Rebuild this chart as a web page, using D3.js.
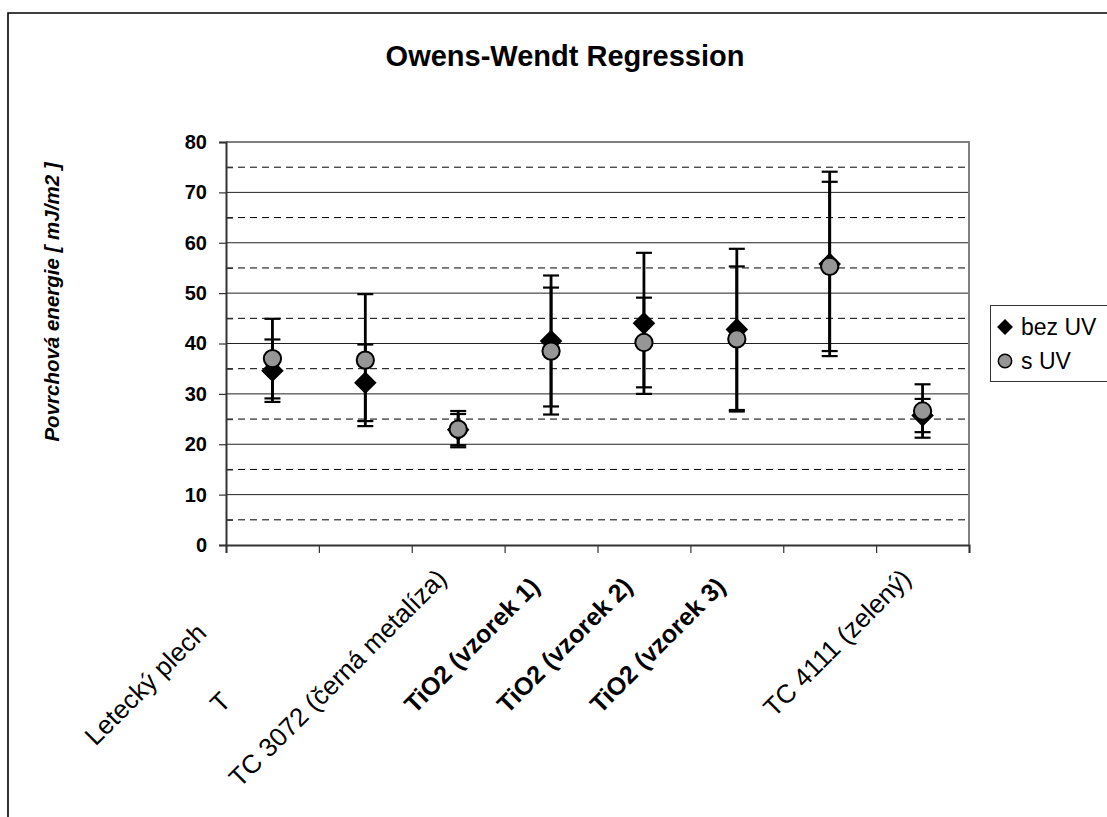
<!DOCTYPE html>
<html>
<head>
<meta charset="utf-8">
<script src="https://cdn.jsdelivr.net/npm/d3@7"></script>
<style>
  html, body { margin: 0; padding: 0; background: #fff; }
  svg { display: block; font-family: Arial, "Liberation Sans", sans-serif; }
</style>
</head>
<body>
<svg id="chart" width="1107" height="817"></svg>
<script>
// Category labels as printed under the axis
const categories = ["Letecký plech", "T", "TC 3072 (černá metalíza)", "TiO2 (vzorek 1)",
                    "TiO2 (vzorek 2)", "TiO2 (vzorek 3)", "", "TC 4111 (zelený)"];
const boldLabel = [false, false, false, true, true, true, false, false];

// Surface energy without UV (diamonds) and its error
const bezUV    = [34.6, 32.2, 22.9, 40.5, 44.0, 42.8, 55.8, 25.7];
const bezUVErr = [6.2, 7.6, 3.1, 13.0, 14.0, 16.0, 18.3, 3.3];

// Surface energy with UV (circles) and its error
const sUV    = [37.0, 36.7, 23.0, 38.5, 40.2, 40.9, 55.3, 26.6];
const sUVErr = [7.9, 13.1, 3.6, 12.6, 8.9, 14.4, 16.8, 5.3];

const yMajor = [0, 10, 20, 30, 40, 50, 60, 70, 80];
const yMinor = [5, 15, 25, 35, 45, 55, 65, 75];

const seriesNames = ["bez UV", "s UV"];

// ---- layout ----
const svg = d3.select("#chart");
const L = 226, R = 969, T = 142, B = 545;

const x = d3.scaleBand().domain(d3.range(categories.length)).range([L, R]).padding(0);
const xEdge = d3.scaleLinear().domain([0, categories.length]).range([L, R]);
const y = d3.scaleLinear().domain([0, 80]).range([B, T]);

// outer chart frame
svg.append("path")
  .attr("d", `M8,817 L8,13 L1107,13`)
  .attr("fill", "none").attr("stroke", "#000").attr("stroke-width", 1.6);

// title
svg.append("text")
  .attr("x", 565).attr("y", 66)
  .attr("text-anchor", "middle")
  .attr("font-size", 29).attr("font-weight", "bold")
  .text("Owens-Wendt Regression");

// y-axis title
svg.append("text")
  .attr("transform", "translate(59,302) rotate(-90)")
  .attr("text-anchor", "middle")
  .attr("font-size", 20.5).attr("font-weight", "bold").attr("font-style", "italic")
  .text("Povrchová energie [ mJ/m2 ]");

// dashed minor gridlines
svg.append("g").selectAll("line").data(yMinor).join("line")
  .attr("x1", L).attr("x2", R)
  .attr("y1", d => y(d)).attr("y2", d => y(d))
  .attr("stroke", "#000").attr("stroke-width", 1)
  .attr("stroke-dasharray", "7,5");

// solid major gridlines
svg.append("g").selectAll("line").data(yMajor.filter(v => v > 0 && v < 80)).join("line")
  .attr("x1", L).attr("x2", R)
  .attr("y1", d => y(d)).attr("y2", d => y(d))
  .attr("stroke", "#222").attr("stroke-width", 1);

// plot area border (top and right)
svg.append("path")
  .attr("d", `M${L},${y(80)} L${R},${y(80)} L${R},${B}`)
  .attr("fill", "none").attr("stroke", "#808080").attr("stroke-width", 2);

// y axis: major ticks outward with labels, minor ticks inward
const yAxis = svg.append("g").attr("transform", `translate(${L},0)`)
  .call(d3.axisLeft(y).tickValues(yMajor).tickSize(7).tickPadding(12).tickFormat(d3.format("d")));
yAxis.select(".domain").attr("stroke", "#333").attr("stroke-width", 2);
yAxis.selectAll(".tick line").attr("stroke", "#333").attr("stroke-width", 1.2);
yAxis.selectAll(".tick text")
  .attr("font-size", 20).attr("font-weight", "bold")
  .attr("font-family", "Arial, 'Liberation Sans', sans-serif").attr("fill", "#000");

const yMinorAxis = svg.append("g").attr("transform", `translate(${L},0)`)
  .call(d3.axisLeft(y).tickValues(yMinor).tickSize(-7).tickFormat(""));
yMinorAxis.select(".domain").remove();
yMinorAxis.selectAll(".tick line").attr("stroke", "#333").attr("stroke-width", 1.2);

// x axis with ticks at category boundaries
const xAxis = svg.append("g").attr("transform", `translate(0,${B})`)
  .call(d3.axisBottom(xEdge).tickValues(d3.range(categories.length + 1)).tickSize(8).tickFormat(""));
xAxis.select(".domain").attr("stroke", "#333").attr("stroke-width", 2);
xAxis.selectAll(".tick line").attr("stroke", "#333").attr("stroke-width", 1.2);

// rotated category labels; the first two sit further down along their baseline
const labelShift = [77, 174, 0, 0, 0, 0, 0, 0];
svg.append("g").selectAll("text").data(categories).join("text")
  .attr("transform", (d, i) => {
    const cx = x(i) + x.bandwidth() / 2 - 10;
    const cy = boldLabel[i] ? 588 : 580;
    const s = labelShift[i] / Math.SQRT2;
    return `translate(${cx - s},${cy + s}) rotate(-45)`;
  })
  .attr("text-anchor", "end")
  .attr("font-size", (d, i) => boldLabel[i] ? 25 : 26)
  .attr("font-weight", (d, i) => boldLabel[i] ? "bold" : "normal")
  .text(d => d);

// error bars + markers for one series
function drawSeries(values, errs, symbolType, size, rotate, fill) {
  const g = svg.append("g");
  const capW = 8;
  values.forEach((v, i) => {
    const cx = x(i) + x.bandwidth() / 2;
    const e = errs[i];
    g.append("line")
      .attr("x1", cx).attr("x2", cx)
      .attr("y1", y(v + e)).attr("y2", y(v - e))
      .attr("stroke", "#000").attr("stroke-width", 2.8);
    [v + e, v - e].forEach(c => {
      g.append("line")
        .attr("x1", cx - capW).attr("x2", cx + capW)
        .attr("y1", y(c)).attr("y2", y(c))
        .attr("stroke", "#000").attr("stroke-width", 2.2);
    });
  });
  g.selectAll("path.mark").data(values).join("path")
    .attr("class", "mark")
    .attr("d", d3.symbol().type(symbolType).size(size))
    .attr("transform", (d, i) => `translate(${x(i) + x.bandwidth() / 2},${y(d)}) rotate(${rotate})`)
    .attr("fill", fill).attr("stroke", "#000").attr("stroke-width", 2);
}

drawSeries(bezUV, bezUVErr, d3.symbolSquare, 195, 45, "#000");
drawSeries(sUV, sUVErr, d3.symbolCircle, 235, 0, "#969696");

// legend
const lg = svg.append("g");
lg.append("rect")
  .attr("x", 990.5).attr("y", 305.5).attr("width", 140).attr("height", 76)
  .attr("fill", "#fff").attr("stroke", "#333").attr("stroke-width", 1);
const legendSymbols = [
  { type: d3.symbolSquare, size: 95, rot: 45, fill: "#000" },
  { type: d3.symbolCircle, size: 140, rot: 0, fill: "#969696" }
];
seriesNames.forEach((name, i) => {
  const cy = 327 + i * 34;
  lg.append("path")
    .attr("d", d3.symbol().type(legendSymbols[i].type).size(legendSymbols[i].size))
    .attr("transform", `translate(1005,${cy}) rotate(${legendSymbols[i].rot})`)
    .attr("fill", legendSymbols[i].fill).attr("stroke", "#000").attr("stroke-width", 1.5);
  lg.append("text")
    .attr("x", 1021).attr("y", cy + 8)
    .attr("font-size", 23)
    .text(name);
});
</script>
</body>
</html>
